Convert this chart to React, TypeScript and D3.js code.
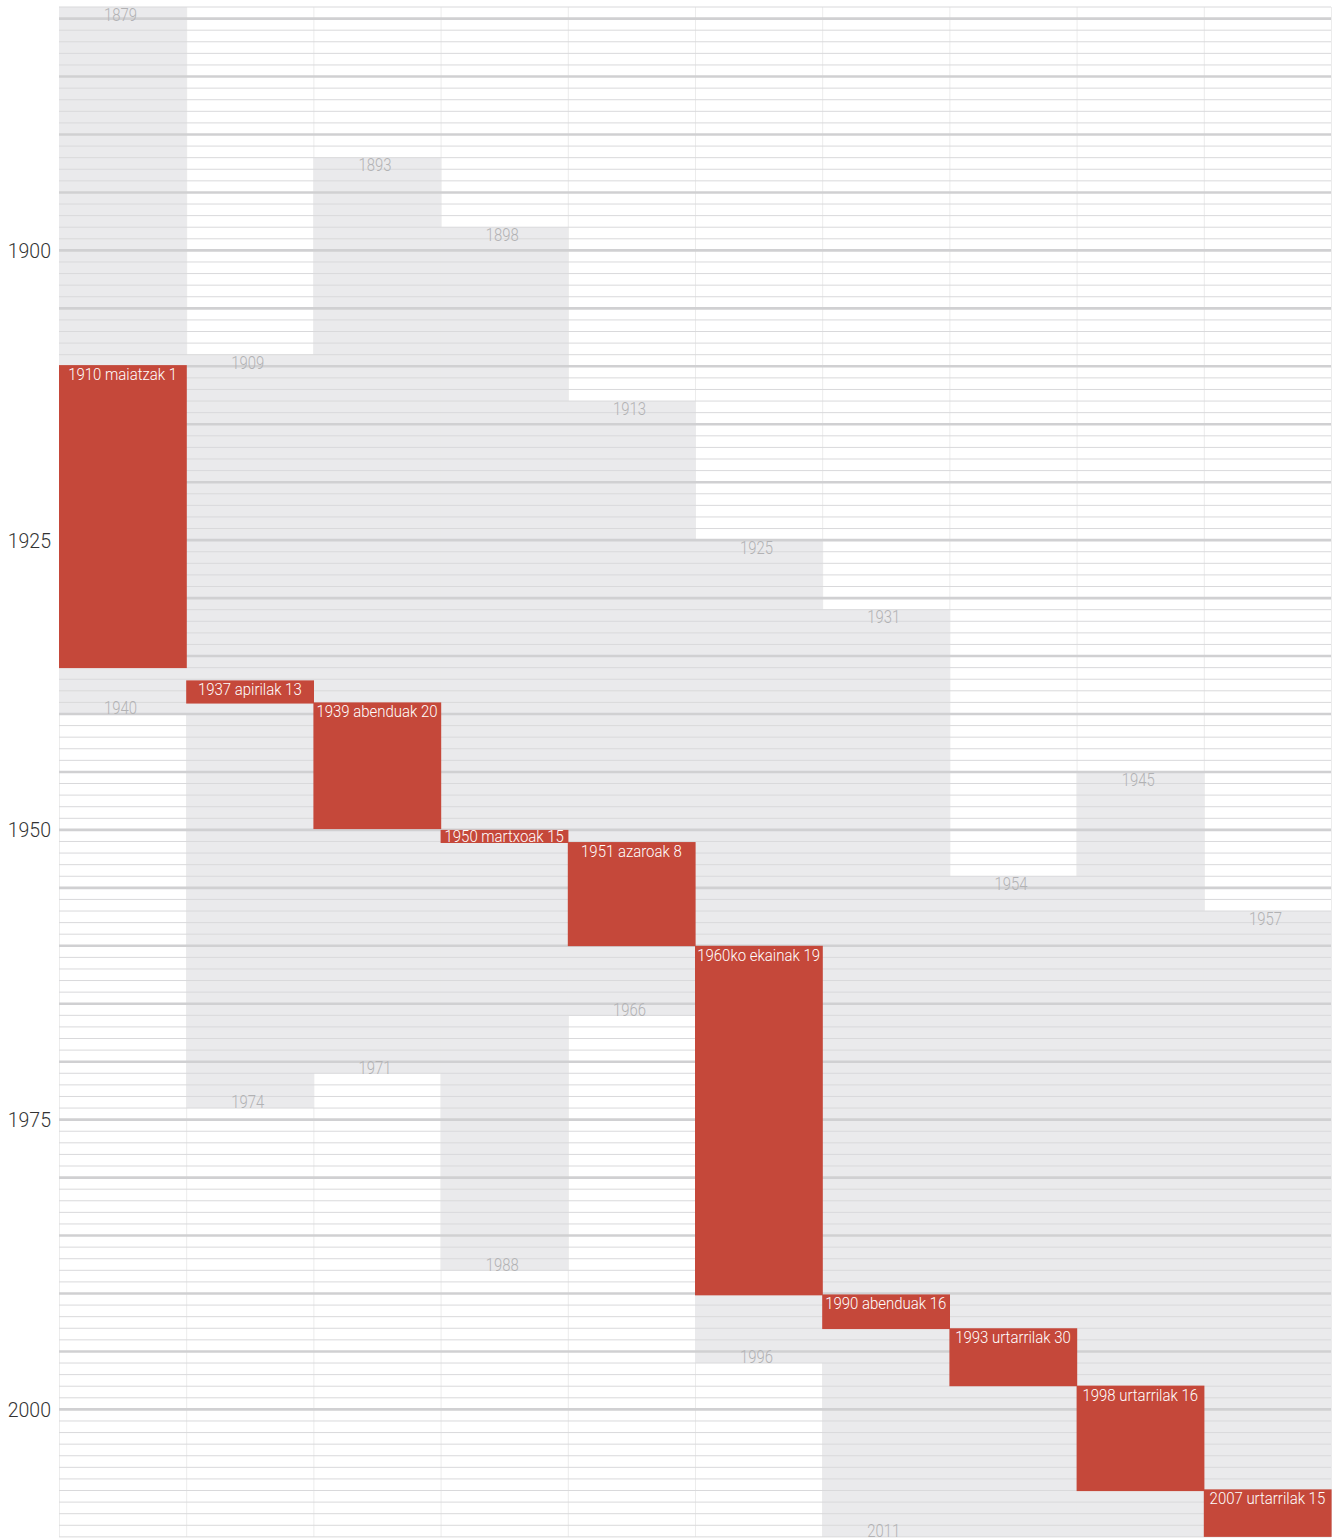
import React from 'react';
import * as d3 from 'd3';

// ---- data ----
const columns = ['c1', 'c2', 'c3', 'c4', 'c5', 'c6', 'c7', 'c8', 'c9', 'c10'];
const lifeStarts = [1879, 1909, 1892, 1898, 1913, 1925, 1931, 1954, 1945, 1957];
const lifeStartLabels = ['1879', '1909', '1893', '1898', '1913', '1925', '1931', '1954', '1945', '1957'];
const lifeEnds: (number | null)[] = [1940, 1974, 1971, 1988, 1966.05, 1996, 2011, null, null, null];
const lifeEndLabels = ['1940', '1974', '1971', '1988', '1966', '1996', '2011', '', '', ''];
const titleStarts = [1909.9, 1937.1, 1939.0, 1950.0, 1951.05, 1960.0, 1990.08, 1993.0, 1997.95, 2006.9];
const titleEnds = [1936.04, 1939.1, 1949.93, 1951.13, 1960.03, 1990.16, 1993.07, 1998.0, 2007.05, 2011];
const titleLabels = [
  '1910 maiatzak 1',
  '1937 apirilak 13',
  '1939 abenduak 20',
  '1950 martxoak 15',
  '1951 azaroak 8',
  '1960ko ekainak 19',
  '1990 abenduak 16',
  '1993 urtarrilak 30',
  '1998 urtarrilak 16',
  '2007 urtarrilak 15',
];
const yearTicks = [1900, 1925, 1950, 1975, 2000];
const yearDomain = [1879, 2011];
const majorLineRange = [1880, 2000];

const W = 1338;
const H = 1539;
const FONT = 'Roboto, "Open Sans", Lato, sans-serif';
const RED = '#c5483a';
const GREY = '#eaeaec';

export default function App() {
  const x = d3.scaleBand<string>().domain(columns).range([59, 1331]).padding(0);
  const y = d3.scaleLinear().domain(yearDomain).range([7, 7 + (yearDomain[1] - yearDomain[0]) * 11.59]);
  const bw = x.bandwidth();
  const gridYears = d3.range(yearDomain[0], yearDomain[1] + 1);
  const [x0, x1] = x.range();

  return (
    <div style={{ position: 'absolute', left: 0, top: 0, width: W, height: H, overflow: 'hidden', background: '#fff' }}>
      <svg width={W} height={H} style={{ display: 'block' }} fontFamily={FONT}>
        {/* vertical column separators */}
        {columns.concat(['end']).map((c, i) => {
          const xx = i < columns.length ? (x(c) as number) : x1;
          return (
            <line key={'v' + i} x1={xx + 0.5} x2={xx + 0.5} y1={y(yearDomain[0])} y2={y(yearDomain[1])}
              stroke="#ececec" strokeWidth={1} />
          );
        })}
        {/* grey life bars */}
        {columns.map((c, i) => {
          const end = lifeEnds[i] == null ? yearDomain[1] : (lifeEnds[i] as number);
          return (
            <rect key={'g' + c} x={x(c)} y={y(lifeStarts[i])} width={bw + 0.6}
              height={y(end) - y(lifeStarts[i])} fill={GREY} />
          );
        })}
        {/* horizontal year lines */}
        {gridYears.map((yr) => {
          const major = yr % 5 === 0 && yr >= majorLineRange[0] && yr <= majorLineRange[1];
          return (
            <line key={'h' + yr} x1={x0} x2={x1} y1={y(yr)} y2={y(yr)}
              stroke={major ? '#d0d0d2' : '#d9d9db'} strokeWidth={major ? 2.6 : 1} />
          );
        })}
        {/* red title bars */}
        {columns.map((c, i) => (
          <rect key={'r' + c} x={x(c)} y={y(titleStarts[i])} width={bw + 0.6}
            height={y(titleEnds[i]) - y(titleStarts[i])} fill={RED} />
        ))}
        {/* grey start/end labels */}
        {columns.map((c, i) => {
          const cx = (x(c) as number) + bw / 2 - 2;
          const items = [
            <g key={'sl' + c} transform={`translate(${cx},${y(lifeStarts[i]) + 13.8}) scale(0.85,1)`}>
              <text textAnchor="middle" fontSize={17.5} fontWeight={300} fill="#b2b2b4">{lifeStartLabels[i]}</text>
            </g>,
          ];
          if (lifeEndLabels[i]) {
            const e = lifeEnds[i] as number;
            items.push(
              <g key={'el' + c} transform={`translate(${cx},${y(e) + 0.3}) scale(0.85,1)`}>
                <text textAnchor="middle" fontSize={17.5} fontWeight={300} fill="#b2b2b4">{lifeEndLabels[i]}</text>
              </g>
            );
          }
          return items;
        })}
        {/* red labels */}
        {columns.map((c, i) => {
          const cx = (x(c) as number) + bw / 2;
          const by = Math.min(y(titleStarts[i]) + 15, y(titleEnds[i]) - 0.5);
          return (
            <g key={'rl' + c} transform={`translate(${cx},${by}) scale(0.88,1)`}>
              <text textAnchor="middle" fontSize={17} fontWeight={300} fill="#ffffff">{titleLabels[i]}</text>
            </g>
          );
        })}
        {/* year axis labels */}
        {yearTicks.map((t) => (
          <text key={'t' + t} x={51} y={y(t) + 7.5} textAnchor="end" fontSize={19.5} fontWeight={300} fill="#333">
            {t}
          </text>
        ))}
      </svg>
    </div>
  );
}
